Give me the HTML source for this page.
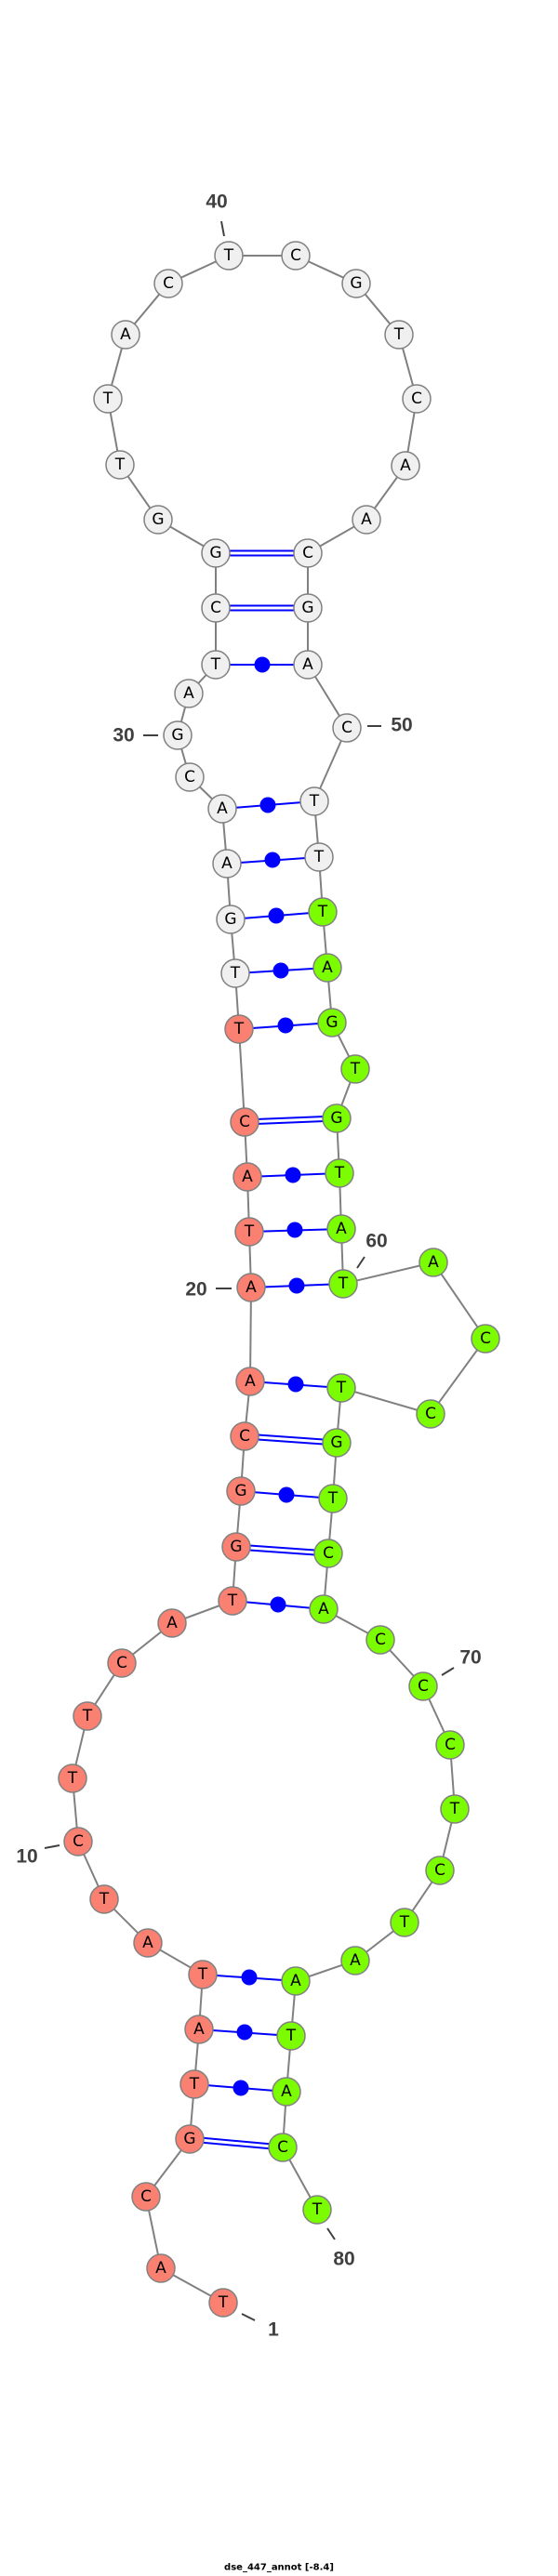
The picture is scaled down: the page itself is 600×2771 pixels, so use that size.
<!DOCTYPE html>
<html><head><meta charset="utf-8"><style>
html,body{margin:0;padding:0;background:#fff}
svg{display:block}
.n{stroke:#808080;stroke-width:1.5}
.w{fill:#f0f0f0}.r{fill:#fa8072}.g{fill:#7cfc00}
.t{font-family:"DejaVu Sans","Liberation Sans",sans-serif;font-size:17px;fill:#000;text-anchor:middle;dominant-baseline:central}
.l{font-family:"Liberation Sans",sans-serif;font-weight:bold;font-size:21px;fill:#404040;text-anchor:middle;dominant-baseline:central}
.k{stroke:#404040;stroke-width:2}
.b{stroke:#808080;stroke-width:2;fill:none}
.p{stroke:#0000ff;stroke-width:2}
</style></head><body>
<svg width="600" height="2771" viewBox="0 0 600 2771" xmlns="http://www.w3.org/2000/svg">
<polyline class="b" points="240,2477 173,2440 157,2363 204,2301 209,2242 214,2183 218,2124 159,2090 112,2043 84,1981 78,1913 94,1846 131,1789 185,1746 250,1722 254,1664 259,1604 263,1545 269,1486 270,1385 268,1325 266,1266 263,1207 257,1107 253,1047 248,989 244,929 239,870 204,836 191,791 203,746 232,715 232,654 232,595 170,559 129,500 116,429 135,360 181,305 246,275 318,275 383,305 429,360 448,429 436,501 394,559 331,595 331,654 331,715 373,783 338,862 343,922 347,981 352,1041 357,1100 382,1150 362,1203 365,1262 367,1322 369,1381 466,1358 522,1440 463,1521 367,1493 362,1552 358,1612 353,1671 348,1731 409,1764 455,1814 484,1877 489,1946 473,2012 435,2068 382,2109 318,2131 313,2190 308,2250 304,2310 341,2377"/>
<!-- single pairs with dots -->
<g class="p">
<line x1="218" y1="2124" x2="318" y2="2131"/><line x1="214" y1="2183" x2="313" y2="2190"/><line x1="209" y1="2242" x2="308" y2="2250"/>
<line x1="250" y1="1722" x2="348" y2="1731"/><line x1="259" y1="1604" x2="358" y2="1612"/><line x1="269" y1="1486" x2="367" y2="1493"/>
<line x1="270" y1="1385" x2="369" y2="1381"/><line x1="268" y1="1325" x2="367" y2="1322"/><line x1="266" y1="1266" x2="365" y2="1262"/>
<line x1="257" y1="1107" x2="357" y2="1100"/><line x1="253" y1="1047" x2="352" y2="1041"/><line x1="248" y1="989" x2="347" y2="981"/>
<line x1="244" y1="929" x2="343" y2="922"/><line x1="239" y1="870" x2="338" y2="862"/><line x1="232" y1="715" x2="331" y2="715"/>
<!-- doubles -->
<line x1="204" y1="2298.5" x2="304" y2="2307.5"/><line x1="204" y1="2303.5" x2="304" y2="2312.5"/>
<line x1="254" y1="1661.5" x2="353" y2="1668.5"/><line x1="254" y1="1666.5" x2="353" y2="1673.5"/>
<line x1="263" y1="1542.5" x2="362" y2="1549.5"/><line x1="263" y1="1547.5" x2="362" y2="1554.5"/>
<line x1="263" y1="1204.5" x2="362" y2="1200.5"/><line x1="263" y1="1209.5" x2="362" y2="1205.5"/>
<line x1="232" y1="651.5" x2="331" y2="651.5"/><line x1="232" y1="656.5" x2="331" y2="656.5"/>
<line x1="232" y1="592.5" x2="331" y2="592.5"/><line x1="232" y1="597.5" x2="331" y2="597.5"/>
</g>
<g fill="#0000ff">
<circle cx="268" cy="2127" r="8.5"/><circle cx="263" cy="2186" r="8.5"/><circle cx="259" cy="2246" r="8.5"/>
<circle cx="299" cy="1726" r="8.5"/><circle cx="308" cy="1608" r="8.5"/><circle cx="318" cy="1489" r="8.5"/>
<circle cx="319" cy="1383" r="8.5"/><circle cx="317" cy="1323" r="8.5"/><circle cx="315" cy="1264" r="8.5"/>
<circle cx="307" cy="1103" r="8.5"/><circle cx="302" cy="1044" r="8.5"/><circle cx="297" cy="985" r="8.5"/>
<circle cx="293" cy="925" r="8.5"/><circle cx="288" cy="866" r="8.5"/><circle cx="282" cy="715" r="8.5"/>
</g>
<!-- ticks -->
<g class="k">
<line x1="238" y1="238" x2="241" y2="254"/><line x1="154" y1="791" x2="170" y2="791"/><line x1="395" y1="781" x2="410" y2="781"/>
<line x1="384" y1="1364" x2="392" y2="1352"/><line x1="232" y1="1386" x2="249" y2="1386"/><line x1="48" y1="1988" x2="64" y2="1985"/>
<line x1="475" y1="1802" x2="488" y2="1794"/><line x1="352" y1="2397" x2="360" y2="2409"/><line x1="260" y1="2489" x2="274" y2="2496"/>
</g>
<g class="l">
<text x="233" y="217">40</text><text x="133" y="791">30</text><text x="432" y="780">50</text><text x="405" y="1335">60</text>
<text x="211" y="1387">20</text><text x="29" y="1997">10</text><text x="506" y="1783">70</text><text x="370" y="2430">80</text><text x="294" y="2506">1</text>
</g>
<!-- nodes -->
<g class="n">
<circle class="r" cx="240" cy="2477" r="15"/><circle class="r" cx="173" cy="2440" r="15"/><circle class="r" cx="157" cy="2363" r="15"/><circle class="r" cx="204" cy="2301" r="15"/><circle class="r" cx="209" cy="2242" r="15"/><circle class="r" cx="214" cy="2183" r="15"/><circle class="r" cx="218" cy="2124" r="15"/><circle class="r" cx="159" cy="2090" r="15"/><circle class="r" cx="112" cy="2043" r="15"/><circle class="r" cx="84" cy="1981" r="15"/><circle class="r" cx="78" cy="1913" r="15"/><circle class="r" cx="94" cy="1846" r="15"/><circle class="r" cx="131" cy="1789" r="15"/><circle class="r" cx="185" cy="1746" r="15"/><circle class="r" cx="250" cy="1722" r="15"/><circle class="r" cx="254" cy="1664" r="15"/><circle class="r" cx="259" cy="1604" r="15"/><circle class="r" cx="263" cy="1545" r="15"/><circle class="r" cx="269" cy="1486" r="15"/><circle class="r" cx="270" cy="1385" r="15"/><circle class="r" cx="268" cy="1325" r="15"/><circle class="r" cx="266" cy="1266" r="15"/><circle class="r" cx="263" cy="1207" r="15"/><circle class="r" cx="257" cy="1107" r="15"/>
<circle class="w" cx="253" cy="1047" r="15"/><circle class="w" cx="248" cy="989" r="15"/><circle class="w" cx="244" cy="929" r="15"/><circle class="w" cx="239" cy="870" r="15"/><circle class="w" cx="204" cy="836" r="15"/><circle class="w" cx="191" cy="791" r="15"/><circle class="w" cx="203" cy="746" r="15"/><circle class="w" cx="232" cy="715" r="15"/><circle class="w" cx="232" cy="654" r="15"/><circle class="w" cx="232" cy="595" r="15"/><circle class="w" cx="170" cy="559" r="15"/><circle class="w" cx="129" cy="500" r="15"/><circle class="w" cx="116" cy="429" r="15"/><circle class="w" cx="135" cy="360" r="15"/><circle class="w" cx="181" cy="305" r="15"/><circle class="w" cx="246" cy="275" r="15"/><circle class="w" cx="318" cy="275" r="15"/><circle class="w" cx="383" cy="305" r="15"/><circle class="w" cx="429" cy="360" r="15"/><circle class="w" cx="448" cy="429" r="15"/><circle class="w" cx="436" cy="501" r="15"/><circle class="w" cx="394" cy="559" r="15"/><circle class="w" cx="331" cy="595" r="15"/><circle class="w" cx="331" cy="654" r="15"/><circle class="w" cx="331" cy="715" r="15"/><circle class="w" cx="373" cy="783" r="15"/><circle class="w" cx="338" cy="862" r="15"/><circle class="w" cx="343" cy="922" r="15"/>
<circle class="g" cx="347" cy="981" r="15"/><circle class="g" cx="352" cy="1041" r="15"/><circle class="g" cx="357" cy="1100" r="15"/><circle class="g" cx="382" cy="1150" r="15"/><circle class="g" cx="362" cy="1203" r="15"/><circle class="g" cx="365" cy="1262" r="15"/><circle class="g" cx="367" cy="1322" r="15"/><circle class="g" cx="369" cy="1381" r="15"/><circle class="g" cx="466" cy="1358" r="15"/><circle class="g" cx="522" cy="1440" r="15"/><circle class="g" cx="463" cy="1521" r="15"/><circle class="g" cx="367" cy="1493" r="15"/><circle class="g" cx="362" cy="1552" r="15"/><circle class="g" cx="358" cy="1612" r="15"/><circle class="g" cx="353" cy="1671" r="15"/><circle class="g" cx="348" cy="1731" r="15"/><circle class="g" cx="409" cy="1764" r="15"/><circle class="g" cx="455" cy="1814" r="15"/><circle class="g" cx="484" cy="1877" r="15"/><circle class="g" cx="489" cy="1946" r="15"/><circle class="g" cx="473" cy="2012" r="15"/><circle class="g" cx="435" cy="2068" r="15"/><circle class="g" cx="382" cy="2109" r="15"/><circle class="g" cx="318" cy="2131" r="15"/><circle class="g" cx="313" cy="2190" r="15"/><circle class="g" cx="308" cy="2250" r="15"/><circle class="g" cx="304" cy="2310" r="15"/><circle class="g" cx="341" cy="2377" r="15"/>
</g>
<g class="t">
<text x="240" y="2477">T</text><text x="173" y="2440">A</text><text x="157" y="2363">C</text><text x="204" y="2301">G</text><text x="209" y="2242">T</text><text x="214" y="2183">A</text><text x="218" y="2124">T</text><text x="159" y="2090">A</text><text x="112" y="2043">T</text><text x="84" y="1981">C</text><text x="78" y="1913">T</text><text x="94" y="1846">T</text><text x="131" y="1789">C</text><text x="185" y="1746">A</text><text x="250" y="1722">T</text><text x="254" y="1664">G</text><text x="259" y="1604">G</text><text x="263" y="1545">C</text><text x="269" y="1486">A</text><text x="270" y="1385">A</text><text x="268" y="1325">T</text><text x="266" y="1266">A</text><text x="263" y="1207">C</text><text x="257" y="1107">T</text>
<text x="253" y="1047">T</text><text x="248" y="989">G</text><text x="244" y="929">A</text><text x="239" y="870">A</text><text x="204" y="836">C</text><text x="191" y="791">G</text><text x="203" y="746">A</text><text x="232" y="715">T</text><text x="232" y="654">C</text><text x="232" y="595">G</text><text x="170" y="559">G</text><text x="129" y="500">T</text><text x="116" y="429">T</text><text x="135" y="360">A</text><text x="181" y="305">C</text><text x="246" y="275">T</text><text x="318" y="275">C</text><text x="383" y="305">G</text><text x="429" y="360">T</text><text x="448" y="429">C</text><text x="436" y="501">A</text><text x="394" y="559">A</text><text x="331" y="595">C</text><text x="331" y="654">G</text><text x="331" y="715">A</text><text x="373" y="783">C</text><text x="338" y="862">T</text><text x="343" y="922">T</text>
<text x="347" y="981">T</text><text x="352" y="1041">A</text><text x="357" y="1100">G</text><text x="382" y="1150">T</text><text x="362" y="1203">G</text><text x="365" y="1262">T</text><text x="367" y="1322">A</text><text x="369" y="1381">T</text><text x="466" y="1358">A</text><text x="522" y="1440">C</text><text x="463" y="1521">C</text><text x="367" y="1493">T</text><text x="362" y="1552">G</text><text x="358" y="1612">T</text><text x="353" y="1671">C</text><text x="348" y="1731">A</text><text x="409" y="1764">C</text><text x="455" y="1814">C</text><text x="484" y="1877">C</text><text x="489" y="1946">T</text><text x="473" y="2012">C</text><text x="435" y="2068">T</text><text x="382" y="2109">A</text><text x="318" y="2131">A</text><text x="313" y="2190">T</text><text x="308" y="2250">A</text><text x="304" y="2310">C</text><text x="341" y="2377">T</text>
</g>
<text x="300" y="2762" font-family="DejaVu Sans,sans-serif" font-weight="bold" font-size="10" fill="#000" text-anchor="middle" dominant-baseline="central">dse_447_annot [-8.4]</text>
</svg>
</body></html>
